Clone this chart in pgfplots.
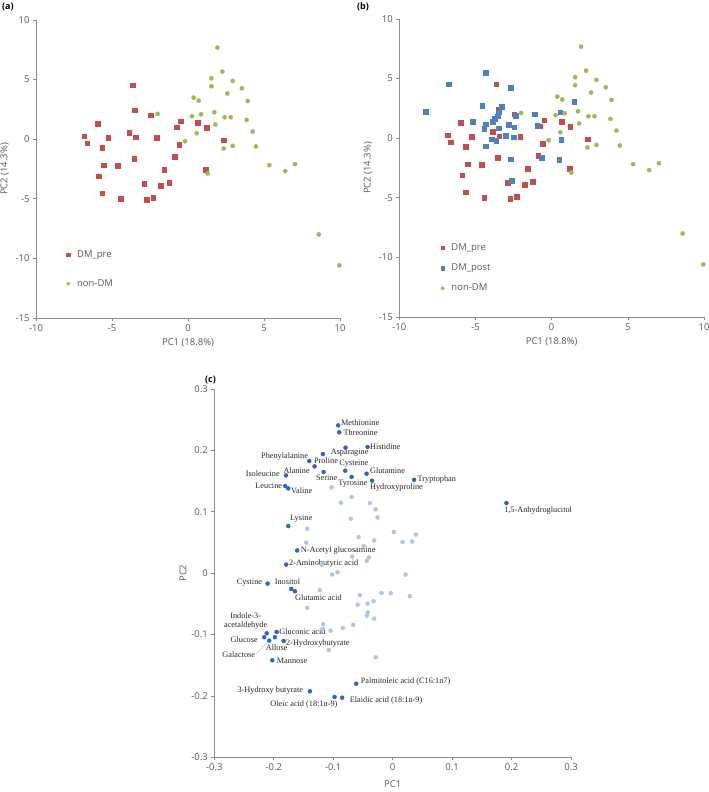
\documentclass[border=0pt]{standalone}
\usepackage{pgfplots}
\pgfplotsset{compat=1.18}
\usepackage{pgfplotstable}
\usepackage{fontspec}
\setmainfont{Open Sans}
\newfontfamily\lab{Liberation Serif}

\definecolor{dmpre}{HTML}{C0504D}
\definecolor{dmpost}{HTML}{4F81BD}
\definecolor{nondm}{HTML}{9BBB59}
\definecolor{mdark}{HTML}{2E62CC}
\definecolor{mlight}{HTML}{AFC4EC}
\definecolor{axgray}{HTML}{8C8C8C}
\definecolor{txtgray}{HTML}{595959}

% scores, DM_pre
\pgfplotstableread{
x y
-3.64 4.53
-3.51 2.43
-2.46 2.01
-5.96 1.28
-6.84 0.25
-6.62 -0.34
-3.88 0.56
-3.44 0.17
-5.24 0.11
-2.06 0.11
-5.64 -0.70
-0.48 1.51
-0.75 1.01
-0.59 -0.47
0.64 1.37
1.23 0.98
2.35 -0.08
-5.53 -2.18
-4.61 -2.21
-3.55 -1.62
-0.88 -1.48
-5.86 -3.10
-1.56 -2.57
1.18 -2.57
-2.87 -3.72
-1.25 -3.63
-1.78 -3.88
-5.64 -4.53
-4.43 -4.97
-2.72 -5.06
-2.30 -4.89
}\dmpre

% scores, DM_post
\pgfplotstableread{
x y
-8.27 2.21
-6.74 4.53
-4.33 5.51
-2.69 4.25
-4.56 2.71
-3.28 2.66
-3.48 2.18
-3.55 1.84
-3.74 1.62
-3.87 1.37
-5.19 1.40
-4.31 1.17
-4.42 0.81
-2.36 1.87
-2.82 1.15
-2.45 0.92
-3.46 0.84
-1.10 2.01
-0.94 1.04
-3.00 0.23
-2.48 0.09
-3.92 -0.08
-3.64 -0.19
-4.33 -0.67
-2.67 -1.76
-2.61 -3.57
1.48 3.08
0.55 2.18
0.63 -0.11
0.50 -1.81
-0.66 -1.65
}\dmpost

% scores, non-DM
\pgfplotstableread{
x y
1.93 7.68
2.26 5.67
1.54 5.11
1.54 4.44
2.94 4.89
3.55 4.27
2.59 3.83
3.93 3.21
0.37 3.49
0.70 3.24
0.26 1.93
0.86 2.09
1.73 2.26
-2.00 2.12
2.41 1.84
2.81 1.84
1.80 1.23
3.86 1.62
0.57 0.50
-0.20 -0.17
4.25 0.64
2.94 -0.56
2.35 -0.78
4.47 -0.61
1.29 -2.88
5.35 -2.18
6.40 -2.68
7.04 -2.09
8.60 -7.99
9.96 -10.59
}\nondm

% loadings, labelled metabolites
\pgfplotstableread{
x y
-0.0916 0.2408
-0.0899 0.2294
-0.0792 0.2044
-0.0422 0.2055
-0.1173 0.1941
-0.1403 0.1827
-0.1313 0.1739
-0.1795 0.1592
-0.1161 0.1648
-0.0798 0.1669
-0.0439 0.1620
-0.0691 0.1566
-0.0345 0.1506
-0.1807 0.1419
-0.1756 0.1380
-0.1756 0.0767
0.0361 0.1520
0.1914 0.1142
-0.1605 0.0369
-0.1790 0.0140
-0.2103 -0.0170
-0.1706 -0.0256
-0.1644 -0.0294
-0.2119 -0.0979
-0.1951 -0.0958
-0.2160 -0.1044
-0.2076 -0.1099
-0.1980 -0.1044
-0.1834 -0.1104
-0.2025 -0.1419
-0.0613 -0.1801
-0.1392 -0.1925
-0.0977 -0.2018
-0.0849 -0.2029
}\ldark

% loadings, other metabolites
\pgfplotstableread{
x y
-0.1027 0.1397
-0.0691 0.1240
-0.0871 0.1147
-0.0383 0.1142
-0.0287 0.1038
-0.0254 0.0907
-0.0703 0.0886
-0.1437 0.0723
0.0020 0.0669
0.0390 0.0630
0.0328 0.0515
0.0166 0.0506
-0.0573 0.0587
-0.0311 0.0532
-0.1454 0.0499
-0.0489 0.0445
-0.0681 0.0271
-0.0400 0.0255
-0.0434 0.0201
-0.1195 0.0140
-0.0926 0.0016
-0.1017 -0.0023
0.0217 -0.0023
-0.1224 -0.0277
-0.0551 -0.0359
-0.0187 -0.0321
-0.0030 -0.0326
0.0289 -0.0375
-0.0590 -0.0512
-0.0422 -0.0496
-0.0321 -0.0457
-0.1437 -0.0566
-0.0417 -0.0642
-0.0434 -0.0692
-0.0311 -0.0741
-0.1168 -0.0832
-0.1178 -0.0909
-0.1044 -0.0936
-0.0664 -0.0843
-0.0837 -0.0892
-0.1072 -0.1251
-0.0287 -0.1370
}\llight

\pgfplotsset{
  pca/.style={
    scale only axis,
    axis lines=left,
    axis line style={-, axgray, line width=0.8pt},
    tick style={axgray, line width=0.6pt},
    tick align=outside,
    major tick length=3bp,
    tick label style={font=\fontsize{9.5}{11}\selectfont, text=txtgray},
    label style={font=\fontsize{9.5}{11}\selectfont, text=txtgray},
    /pgf/number format/assume math mode=true,
    clip=false,
  },
  score/.style={
    pca,
    width=304bp, height=298bp,
    xmin=-10, xmax=10, ymin=-15, ymax=10,
    xtick={-10,-5,...,10}, ytick={-15,-10,...,10},
    xlabel={PC1 (18.8\%)}, ylabel={PC2 (14.3\%)},
    legend style={draw=none, fill=none, font=\fontsize{9.5}{11}\selectfont,
      text=txtgray, anchor=west,
      /tikz/every odd column/.append style={column sep=5bp}},
    legend cell align=left,
    legend image post style={mark size=1.8bp},
  },
  sq/.style={only marks, mark=square*, mark size=2.3bp, mark options={draw=#1, fill=#1}},
  dot/.style={only marks, mark=*, mark size=2.1bp, mark options={draw=#1, fill=#1}},
}

\newcommand{\ml}[3][west]{\node[anchor=#1, inner sep=0pt, font=\lab\fontsize{8.3}{9}\selectfont, text=black!85] at (axis cs:#2) {#3};}

\begin{document}
\begin{tikzpicture}
\useasboundingbox (0,0) rectangle (709bp,792bp);

% (a)
\begin{axis}[score, at={(36bp,474bp)}, anchor=south west,
    legend style={at={(0.09,0.164)}, row sep=17bp}]
  \addplot[sq=dmpre] table {\dmpre};
  \addplot[dot=nondm] table {\nondm};
  \legend{DM\_pre, non-DM}
\end{axis}

% (b)
\begin{axis}[score, at={(399.3bp,475bp)}, anchor=south west, width=304.7bp,
    legend style={at={(0.126,0.164)}, row sep=8bp}]
  \addplot[sq=dmpre] table {\dmpre};
  \addplot[sq=dmpost] table {\dmpost};
  \addplot[dot=nondm] table {\nondm};
  \legend{DM\_pre, DM\_post, non-DM}
\end{axis}

% (c)
\begin{axis}[pca, at={(214.3bp,34.7bp)}, anchor=south west,
    width=356.7bp, height=368.3bp,
    xmin=-0.3, xmax=0.3, ymin=-0.3, ymax=0.3,
    xtick={-0.3,-0.2,...,0.31}, ytick={-0.3,-0.2,...,0.31},
    xlabel={PC1}, ylabel={PC2},
    xlabel style={yshift=-3bp},
    ylabel style={yshift=-2bp}]
  \addplot[dot=mlight, mark size=2bp] table {\llight};
  \addplot[dot=mdark, mark size=2bp] table {\ldark};
  \ml{-0.0871,0.2452}{Methionine}
  \ml{-0.0829,0.2289}{Threonine}
  \ml{-0.0383,0.2060}{Histidine}
  \ml{-0.1044,0.1958}{Asparagine}
  \ml[east]{-0.1420,0.1902}{Phenylalanine}
  \ml{-0.1324,0.1837}{Proline}
  \ml{-0.0899,0.1778}{Cysteine}
  \ml[east]{-0.1392,0.1669}{Alanine}
  \ml{-0.0383,0.1669}{Glutamine}
  \ml[east]{-0.1896,0.1620}{Isoleucine}
  \ml{-0.1291,0.1550}{Serine}
  \ml{-0.0916,0.1452}{Tyrosine}
  \ml{-0.0383,0.1403}{Hydroxyproline}
  \ml{0.0418,0.1522}{Tryptophan}
  \ml[east]{-0.1857,0.1424}{Leucine}
  \ml{-0.1711,0.1343}{Valine}
  \ml{0.1874,0.1028}{1,5-Anhydroglucitol}
  \ml{-0.1728,0.0881}{Lysine}
  \ml{-0.1548,0.0364}{N-Acetyl glucosamine}
  \ml{-0.1745,0.0157}{2-Aminobutyric acid}
  \ml[east]{-0.2193,-0.0163}{Cystine}
  \ml{-0.1985,-0.0142}{Inositol}
  \ml{-0.1644,-0.0392}{Glutamic acid}
  \node[align=center, inner sep=0pt, font=\lab\fontsize{8.3}{9.4}\selectfont, text=black!85]
    at (axis cs:-0.2472,-0.0783) {Indole-3-\\acetaldehyde};
  \ml{-0.1908,-0.0953}{Gluconic acid}
  \ml[east]{-0.2266,-0.1088}{Glucose}
  \ml{-0.2136,-0.1213}{Allose}
  \ml{-0.1795,-0.1142}{2-Hydroxybutyrate}
  \ml[east]{-0.2311,-0.1321}{Galactose}
  \draw[gray!60, line width=0.4pt] (axis cs:-0.2296,-0.1312) -- (axis cs:-0.2109,-0.1132);
  \ml{-0.1951,-0.1426}{Mannose}
  \ml{-0.0539,-0.1768}{Palmitoleic acid (C16:1n7)}
  \ml[east]{-0.1504,-0.1909}{3-Hydroxy butyrate}
  \ml[east]{-0.0926,-0.2137}{Oleic acid (18:1n-9)}
  \ml{-0.0724,-0.2083}{Elaidic acid (18:1n-9)}
\end{axis}

\node[font=\bfseries\fontsize{9}{10}\selectfont, anchor=west, inner sep=0pt] at (2bp,785bp) {(a)};
\node[font=\bfseries\fontsize{9}{10}\selectfont, anchor=west, inner sep=0pt] at (357bp,785bp) {(b)};
\node[font=\bfseries\fontsize{9}{10}\selectfont, anchor=west, inner sep=0pt] at (205bp,412bp) {(c)};
\end{tikzpicture}
\end{document}
